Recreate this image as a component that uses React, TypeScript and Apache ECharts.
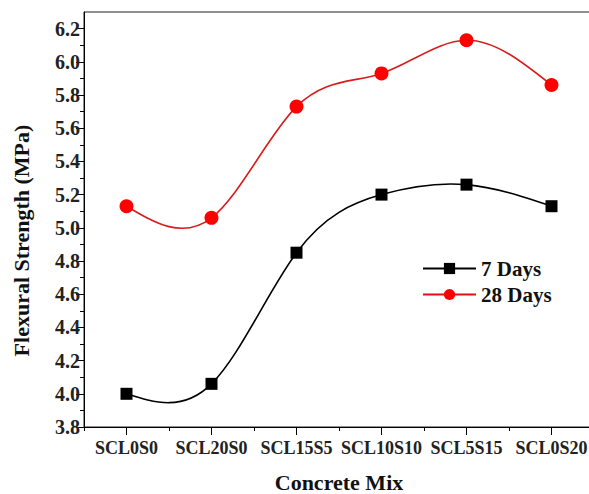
import React, { useEffect, useRef } from "react";
import * as echarts from "echarts";

const categories = ["SCL0S0", "SCL20S0", "SCL15S5", "SCL10S10", "SCL5S15", "SCL0S20"];
const days7 = [4.0, 4.06, 4.85, 5.2, 5.26, 5.13];
const days28 = [5.13, 5.06, 5.73, 5.93, 6.13, 5.86];
const yTickLabels = [3.8, 4.0, 4.2, 4.4, 4.6, 4.8, 5.0, 5.2, 5.4, 5.6, 5.8, 6.0, 6.2];
const yMinorTicks = [3.9, 4.1, 4.3, 4.5, 4.7, 4.9, 5.1, 5.3, 5.5, 5.7, 5.9, 6.1];
const xPositions = [1, 2, 3, 4, 5, 6];
const xMinorTicks = [0.5, 1.5, 2.5, 3.5, 4.5, 5.5, 6.5];

const FONT = "'Liberation Serif', 'Times New Roman', serif";

// natural cubic spline slopes (unit spacing) used only to draw smooth curve through the points
function splineSlopes(y: number[]): number[] {
  const n = y.length - 1;
  const M = new Array(n + 1).fill(0);
  if (n >= 2) {
    const a: number[] = [], b: number[] = [], c: number[] = [], d: number[] = [];
    for (let i = 1; i < n; i++) {
      a.push(1); b.push(4); c.push(1);
      d.push(6 * (y[i + 1] - 2 * y[i] + y[i - 1]));
    }
    const m = d.length;
    const cp = new Array(m).fill(0), dp = new Array(m).fill(0);
    cp[0] = c[0] / b[0]; dp[0] = d[0] / b[0];
    for (let i = 1; i < m; i++) {
      const den = b[i] - a[i] * cp[i - 1];
      cp[i] = c[i] / den;
      dp[i] = (d[i] - a[i] * dp[i - 1]) / den;
    }
    const sol = new Array(m).fill(0);
    sol[m - 1] = dp[m - 1];
    for (let i = m - 2; i >= 0; i--) sol[i] = dp[i] - cp[i] * sol[i + 1];
    for (let i = 1; i < n; i++) M[i] = sol[i - 1];
  }
  const s: number[] = [];
  for (let i = 0; i < n; i++) s.push(y[i + 1] - y[i] - (2 * M[i] + M[i + 1]) / 6);
  s.push(y[n] - y[n - 1] + (M[n - 1] + 2 * M[n]) / 6);
  return s;
}

function curveSeries(name: string, values: number[], color: string) {
  const slopes = splineSlopes(values);
  return {
    type: "custom",
    name: name + " curve",
    xAxisIndex: 0,
    yAxisIndex: 0,
    z: 2,
    silent: true,
    encode: { x: 0, y: 1 },
    data: values.map((v, i) => [xPositions[i], v]),
    renderItem: (params: any, api: any) => {
      const i = params.dataIndex;
      if (i >= values.length - 1) return null;
      const x0 = xPositions[i], x1 = xPositions[i + 1];
      const h = x1 - x0;
      const p0 = api.coord([x0, values[i]]);
      const p3 = api.coord([x1, values[i + 1]]);
      const p1 = api.coord([x0 + h / 3, values[i] + (slopes[i] * h) / 3]);
      const p2 = api.coord([x1 - h / 3, values[i + 1] - (slopes[i + 1] * h) / 3]);
      return {
        type: "bezierCurve",
        shape: {
          x1: p0[0], y1: p0[1], x2: p3[0], y2: p3[1],
          cpx1: p1[0], cpy1: p1[1], cpx2: p2[0], cpy2: p2[1],
        },
        style: { stroke: color, lineWidth: 1.6, fill: "none" },
      };
    },
  };
}

export default function App() {
  const ref = useRef<HTMLDivElement>(null);
  useEffect(() => {
    if (!ref.current) return;
    const chart = echarts.init(ref.current, null, { renderer: "svg" });
    const axisLine = { show: true, onZero: false, lineStyle: { color: "#000", width: 1 } };
    chart.setOption({
      animation: false,
      backgroundColor: "#fff",
      grid: {
        left: 84, right: -5, top: 12, bottom: 67,
        outerBoundsMode: "none",
        containLabel: false,
        show: true, borderColor: "#222", borderWidth: 1,
      },
      legend: {
        orient: "vertical",
        left: 417,
        top: 253,
        itemWidth: 53,
        itemHeight: 14,
        itemGap: 5,
        textStyle: { fontFamily: FONT, fontWeight: "bold", fontSize: 21, color: "#111" },
        data: [
          { name: "7 Days", lineStyle: { opacity: 1, width: 2, color: "#000" } },
          { name: "28 Days", lineStyle: { opacity: 1, width: 2, color: "#e01010" } },
        ],
      },
      xAxis: [
        {
          type: "value",
          min: 0.5,
          max: 6.5,
          position: "bottom",
          axisLine,
          splitLine: { show: false },
          axisTick: { show: true, inside: false, length: 8, customValues: xPositions, lineStyle: { color: "#000" } },
          axisLabel: {
            customValues: xPositions,
            formatter: (v: number) => categories[Math.round(v) - 1] ?? "",
            fontFamily: FONT, fontWeight: "bold", fontSize: 18, color: "#222", margin: 12,
          },
          name: "Concrete Mix",
          nameLocation: "middle",
          nameGap: 44,
          nameTextStyle: { fontFamily: FONT, fontWeight: "bold", fontSize: 22, color: "#111" },
        },
        {
          type: "value",
          min: 0.5,
          max: 6.5,
          position: "bottom",
          axisLine: { show: false, onZero: false },
          splitLine: { show: false },
          axisTick: { show: true, inside: false, length: 4, customValues: xMinorTicks, lineStyle: { color: "#000" } },
          axisLabel: { show: false },
        },
      ],
      yAxis: [
        {
          type: "value",
          min: 3.8,
          max: 6.3,
          position: "left",
          axisLine,
          splitLine: { show: false },
          axisTick: { show: true, inside: false, length: 8, customValues: yTickLabels, lineStyle: { color: "#000" } },
          axisLabel: {
            customValues: yTickLabels,
            formatter: (v: number) => v.toFixed(1),
            fontFamily: FONT, fontWeight: "bold", fontSize: 20, color: "#222", margin: 4,
          },
          name: "Flexural Strength (MPa)",
          nameLocation: "middle",
          nameGap: 52,
          nameRotate: 90,
          nameTextStyle: {
            fontFamily: FONT, fontWeight: "bold", fontSize: 22, color: "#111",
            padding: [0, 42, 0, 0],
          },
        },
        {
          type: "value",
          min: 3.8,
          max: 6.3,
          position: "left",
          axisLine: { show: false, onZero: false },
          splitLine: { show: false },
          axisTick: { show: true, inside: false, length: 4, customValues: yMinorTicks, lineStyle: { color: "#000" } },
          axisLabel: { show: false },
        },
      ],
      series: [
        curveSeries("7 Days", days7, "#000"),
        curveSeries("28 Days", days28, "#d81c1c"),
        {
          type: "line",
          name: "7 Days",
          xAxisIndex: 0,
          yAxisIndex: 0,
          z: 3,
          data: days7.map((v, i) => [xPositions[i], v]),
          symbol: "rect",
          symbolSize: 12,
          showSymbol: true,
          itemStyle: { color: "#000" },
          lineStyle: { opacity: 0, color: "#000" },
        },
        {
          type: "line",
          name: "28 Days",
          xAxisIndex: 0,
          yAxisIndex: 0,
          z: 3,
          data: days28.map((v, i) => [xPositions[i], v]),
          symbol: "circle",
          symbolSize: 14,
          showSymbol: true,
          itemStyle: { color: "#ff0000" },
          lineStyle: { opacity: 0, color: "#e01010" },
        },
      ],
    });
    return () => chart.dispose();
  }, []);
  return <div ref={ref} style={{ width: 589, height: 494, position: "absolute", left: 0, top: 0 }} />;
}
